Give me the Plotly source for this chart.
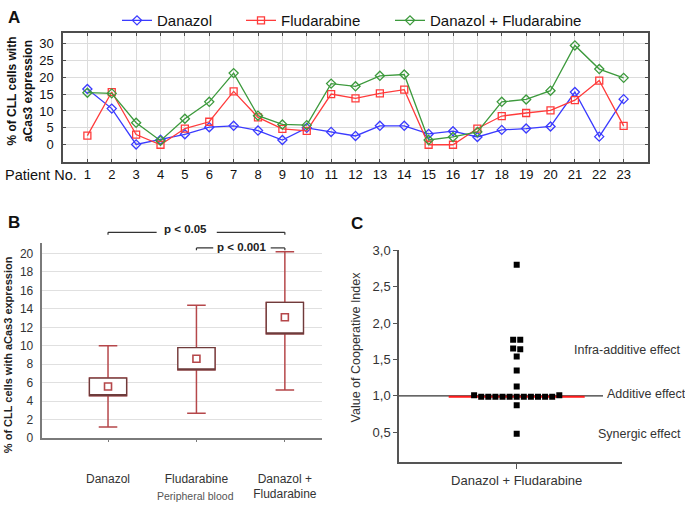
import plotly.graph_objects as go
import numpy as np

W, H = 685, 510

# ---------------- Panel A data ----------------
patients = list(range(1, 24))
danazol = [16.5, 10.7, 0.1, 1.5, 3.1, 5.2, 5.6, 4.2, 1.4, 5.0, 3.8, 2.6,
           5.6, 5.6, 3.2, 4.0, 2.3, 4.4, 4.8, 5.4, 15.6, 2.4, 13.5]
fludarabine = [2.7, 15.6, 3.0, 0.0, 4.8, 6.8, 15.8, 8.1, 4.7, 4.1, 15.0, 13.7,
               15.2, 16.3, 0.0, 0.0, 4.8, 8.5, 9.4, 10.2, 13.2, 19.0, 5.6]
combo = [15.4, 15.2, 6.5, 1.2, 7.7, 12.7, 21.2, 8.6, 6.0, 5.8, 18.1, 17.3,
         20.4, 20.8, 1.4, 2.3, 3.8, 12.7, 13.4, 16.0, 29.4, 22.4, 19.8]
a_yticks = [0, 5, 10, 15, 20, 25, 30]

# ---------------- Panel B data ----------------
groups = ["Danazol", "Fludarabine", "Danazol +<br>Fludarabine"]
whisker_low = [1.2, 2.7, 5.2]
box_low = [4.6, 7.4, 11.3]
box_high = [6.5, 9.8, 14.7]
whisker_high = [10.0, 14.4, 20.2]
group_mean = [5.6, 8.6, 13.1]

# ---------------- Panel C data ----------------
ci_values = [2.80, 1.77, 1.77, 1.65, 1.64, 1.54, 1.35, 1.13,
             1.01, 0.99, 0.99, 0.99, 0.99, 0.99, 0.99, 0.99, 0.99, 0.99, 0.99, 0.99, 1.01,
             0.87, 0.48]
c_yticks = [0.5, 1.0, 1.5, 2.0, 2.5, 3.0]

BLUE = "#3b3bff"
RED = "#ff3b3b"
GREEN = "#3d9a3d"
FONT = "Arial, Liberation Sans, sans-serif"


def px(xp):
    return xp / W


def py(yp):
    return 1 - yp / H


fig = go.Figure()

# ---- Panel A ----
for name, vals, col, sym, leg in [("Danazol", danazol, BLUE, "diamond-open", "legend"),
                                  ("Fludarabine", fludarabine, RED, "square-open", "legend2"),
                                  ("Danazol + Fludarabine", combo, GREEN, "diamond-open", "legend3")]:
    fig.add_trace(go.Scatter(
        x=patients, y=vals, mode="lines+markers", name=name,
        line=dict(color=col, width=1.3),
        marker=dict(symbol=sym, size=7, color=col, line=dict(width=1.3, color=col)),
        xaxis="x", yaxis="y", legend=leg))

# ---- Panel B ----
BOXRED = "#b5474a"
BOXBROWN = "#6e3b3b"
xpos = list(range(len(groups)))
fig.add_trace(go.Box(
    x=xpos, q1=box_low, median=group_mean, q3=box_high,
    lowerfence=whisker_low, upperfence=whisker_high,
    width=0.42, whiskerwidth=0.5, boxpoints=False,
    line=dict(color=BOXRED, width=1.5), fillcolor="white",
    xaxis="x2", yaxis="y2", showlegend=False, hoverinfo="skip"))
fig.add_trace(go.Box(
    x=xpos, q1=box_low, median=box_low, q3=box_high,
    lowerfence=box_low, upperfence=box_high,
    width=0.42, whiskerwidth=0, boxpoints=False,
    line=dict(color=BOXBROWN, width=1.3), fillcolor="white",
    xaxis="x2", yaxis="y2", showlegend=False, hoverinfo="skip"))
fig.add_trace(go.Scatter(
    x=xpos, y=group_mean, mode="markers",
    marker=dict(symbol="square-open", size=7, color=BOXRED, line=dict(width=1.6, color=BOXRED)),
    xaxis="x2", yaxis="y2", showlegend=False))

# ---- Panel C : simple column scatter layout (groups of near-equal values spread sideways) ----
spacing = 7.1
offsets = []
i = 0
n = len(ci_values)
while i < n:
    j = i + 1
    while j < n and abs(ci_values[j] - ci_values[i]) <= 0.03:
        j += 1
    k = j - i
    for m in range(k):
        offsets.append((m - (k - 1) / 2) * spacing)
    i = j
median_ci = float(np.median(ci_values))

fig.add_trace(go.Scatter(
    x=[-68, 68], y=[median_ci, median_ci], mode="lines",
    line=dict(color="#ff1a1a", width=2), xaxis="x3", yaxis="y3", showlegend=False))
fig.add_trace(go.Scatter(
    x=offsets, y=ci_values, mode="markers",
    marker=dict(symbol="square", size=6, color="black"),
    xaxis="x3", yaxis="y3", showlegend=False))

shapes = []
# reference line at CI = 1 in panel C
shapes.append(dict(type="line", xref="x3", yref="y3", x0=-117.7, x1=86.3, y0=1.0, y1=1.0,
                   line=dict(color="#333333", width=1.2), layer="below"))
# significance brackets in panel B
for yb, segs, ends in [(231.7, [(0, 0.55), (1.23, 2)], (0, 2)),
                       (247.7, [(1, 1.19), (1.84, 2)], (1, 2))]:
    for a, b in segs:
        shapes.append(dict(type="line", xref="x2", yref="paper", x0=a, x1=b,
                           y0=py(yb), y1=py(yb), line=dict(color="#333333", width=1.2)))
    for e in ends:
        shapes.append(dict(type="line", xref="x2", yref="paper", x0=e, x1=e,
                           y0=py(yb), y1=py(yb + 2.5), line=dict(color="#333333", width=1.2)))

ann = []
def add_text(text, x, y, size, xanchor="center", yanchor="middle", bold=False, color="#222222", angle=0):
    ann.append(dict(text=("<b>%s</b>" % text) if bold else text, x=px(x), y=py(y),
                    xref="paper", yref="paper", showarrow=False, xanchor=xanchor, yanchor=yanchor,
                    textangle=angle, font=dict(family=FONT, size=size, color=color)))

add_text("A", 14, 11, 17, bold=True, color="#111111")
add_text("B", 14, 222, 17, bold=True, color="#111111")
add_text("C", 357, 223, 17, bold=True, color="#111111")
add_text("% of CLL cells with<br>aCas3 expression", 20, 87, 12, bold=True, color="#111111", angle=-90)
add_text("Patient No.", 3, 173, 14.5, xanchor="left", color="#111111")
add_text("% of CLL cells with aCas3 expression", 8, 358, 11, bold=True, color="#222222", angle=-90)
add_text("Peripheral blood", 195, 503, 10.5, color="#555555")
add_text("p < 0.05", 185, 228, 11.5, bold=True)
add_text("p < 0.001", 242, 247, 11.5, bold=True)
add_text("Value of Cooperative Index", 356, 350, 12.5, color="#333333", angle=-90)
add_text("Infra-additive effect", 683, 353, 12.5, xanchor="right", color="#333333")
add_text("Additive effect", 605, 398, 12.5, xanchor="left", color="#333333")
add_text("Synergic effect", 683, 439, 12.5, xanchor="right", color="#333333")

legend_common = dict(orientation="h", yanchor="middle", xanchor="left", y=py(14),
                     font=dict(family=FONT, size=15, color="#111111"),
                     bgcolor="rgba(0,0,0,0)", borderwidth=0, itemwidth=30)

fig.update_layout(
    width=W, height=H, autosize=False,
    margin=dict(l=0, r=0, t=0, b=0),
    paper_bgcolor="white", plot_bgcolor="white",
    font=dict(family=FONT, color="#222222"),
    separators=", ",
    showlegend=True,
    legend=dict(x=px(117), **legend_common),
    legend2=dict(x=px(241), **legend_common),
    legend3=dict(x=px(390), **legend_common),
    boxmode="overlay",
    shapes=shapes,
    annotations=ann,
    xaxis=dict(domain=[px(63), px(648)], range=[0, 24], tickvals=patients,
               showgrid=True, gridcolor="#dcdcdc", gridwidth=1,
               showline=True, mirror="allticks", linecolor="#4d4d4d", linewidth=1.5,
               ticks="inside", ticklen=3, tickcolor="#4d4d4d", zeroline=False,
               tickfont=dict(size=13, color="#111111"), ticklabelstandoff=0, anchor="y"),
    yaxis=dict(domain=[py(159), py(27)], range=[-5, 33], tickvals=a_yticks,
               showgrid=True, gridcolor="#dcdcdc", gridwidth=1,
               showline=True, mirror="allticks", linecolor="#4d4d4d", linewidth=1.5,
               ticks="inside", ticklen=3, tickcolor="#4d4d4d", zeroline=False,
               tickfont=dict(size=13, color="#111111"), ticklabelstandoff=5, anchor="x"),
    xaxis2=dict(domain=[px(41.7), px(322)], range=[-0.75, 2.42], tickvals=xpos, ticktext=groups,
                showgrid=False, showline=True, linecolor="#7a7a7a", linewidth=2,
                ticks="outside", ticklen=2, tickcolor="#7a7a7a", zeroline=False,
                tickfont=dict(size=12, color="#333333"), ticklabelstandoff=26, anchor="y2"),
    yaxis2=dict(domain=[py(443.3), py(243)], range=[0, 21.1], tickvals=list(range(0, 21, 2)),
                showgrid=True, gridcolor="#e0e0e0", gridwidth=1,
                showline=True, linecolor="#7a7a7a", linewidth=2, ticks="", zeroline=False,
                tickfont=dict(size=12, color="#333333"), ticklabelstandoff=4, anchor="x2"),
    xaxis3=dict(domain=[px(399), px(621.7)], range=[-117.7, 105], tickvals=[0],
                ticktext=["Danazol + Fludarabine"],
                showgrid=False, showline=True, linecolor="#555555", linewidth=1.5,
                ticks="outside", ticklen=5, tickcolor="#555555", zeroline=False,
                tickfont=dict(size=13, color="#333333"), anchor="y3"),
    yaxis3=dict(domain=[py(468.3), py(250)], range=[0.086, 3.002], tickvals=c_yticks,
                tickformat=".1f", showgrid=False, showline=True, linecolor="#555555", linewidth=1.5,
                ticks="outside", ticklen=4, tickcolor="#555555", zeroline=False,
                tickfont=dict(size=13, color="#333333"), anchor="x3"),
)

fig.write_html("out.html", config={"displayModeBar": False},
               post_script="document.body.style.margin='0px';")
